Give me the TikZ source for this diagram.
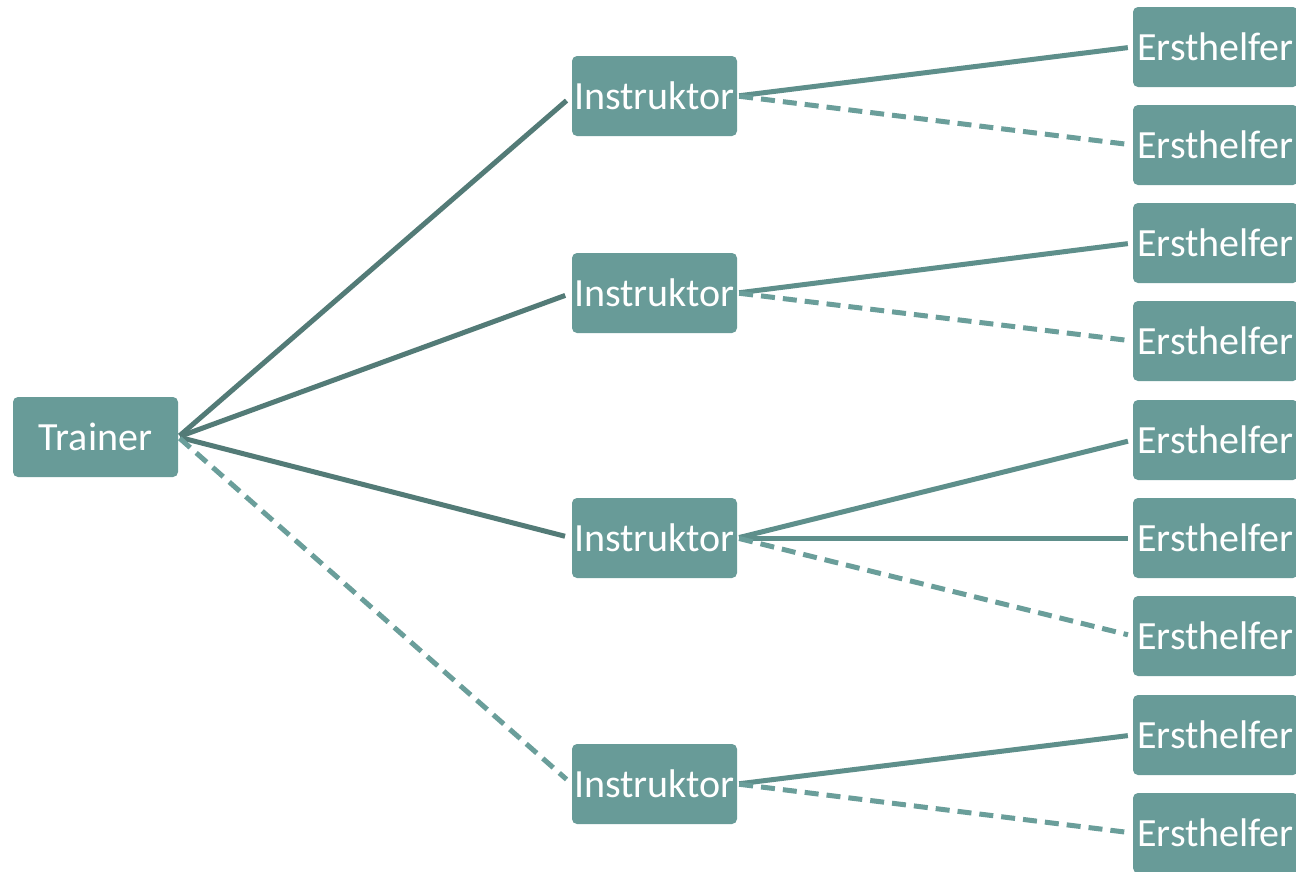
\documentclass[tikz,border=0pt]{standalone}
\usepackage{fontspec}
\setmainfont{Carlito}
\definecolor{boxfill}{HTML}{689B98}
\definecolor{trunk}{HTML}{537B77}
\definecolor{branch}{HTML}{5E8F8B}
\definecolor{dashc}{HTML}{6A9E9A}
\begin{document}
\begin{tikzpicture}[x=1pt,y=-1pt,
  box/.style={fill=boxfill, draw=none, rounded corners=5pt, minimum width=165pt, minimum height=80pt, inner sep=0pt, text=white, font=\fontsize{40}{44}\selectfont},
  trunkline/.style={draw=trunk, line width=5pt, shorten >=7pt, shorten <=2pt},
  trunkdash/.style={draw=dashc, line width=5pt, dash pattern=on 14pt off 8pt, shorten >=7pt, shorten <=2pt},
  branchline/.style={draw=branch, line width=5pt, shorten >=5pt, shorten <=2pt},
  branchdash/.style={draw=dashc, line width=5pt, dash pattern=on 14pt off 8pt, shorten >=5pt, shorten <=2pt}]
\useasboundingbox (0,0) rectangle (1296,871);
\fill[white] (0,0) rectangle (1296,871);
\node[box] (t) at (95.5,437) {Trainer};
\node[box] (i1) at (654.5,96) {Instruktor};
\node[box] (i2) at (654.5,293) {Instruktor};
\node[box] (i3) at (654.5,538) {Instruktor};
\node[box] (i4) at (654.5,784) {Instruktor};
\node[box] (e1) at (1215.5,47) {Ersthelfer};
\node[box] (e2) at (1215.5,145) {Ersthelfer};
\node[box] (e3) at (1215.5,243) {Ersthelfer};
\node[box] (e4) at (1215.5,341) {Ersthelfer};
\node[box] (e5) at (1215.5,440) {Ersthelfer};
\node[box] (e6) at (1215.5,538) {Ersthelfer};
\node[box] (e7) at (1215.5,636) {Ersthelfer};
\node[box] (e8) at (1215.5,735) {Ersthelfer};
\node[box] (e9) at (1215.5,833) {Ersthelfer};
\draw[trunkline] (t.east) -- (i1.west);
\draw[trunkline] (t.east) -- (i2.west);
\draw[trunkline] (t.east) -- (i3.west);
\draw[trunkdash] (t.east) -- (i4.west);
\draw[branchline] (i1.east) -- (e1.west);
\draw[branchdash] (i1.east) -- (e2.west);
\draw[branchline] (i2.east) -- (e3.west);
\draw[branchdash] (i2.east) -- (e4.west);
\draw[branchline] (i3.east) -- (e5.west);
\draw[branchline] (i3.east) -- (e6.west);
\draw[branchdash] (i3.east) -- (e7.west);
\draw[branchline] (i4.east) -- (e8.west);
\draw[branchdash] (i4.east) -- (e9.west);
\end{tikzpicture}
\end{document}
